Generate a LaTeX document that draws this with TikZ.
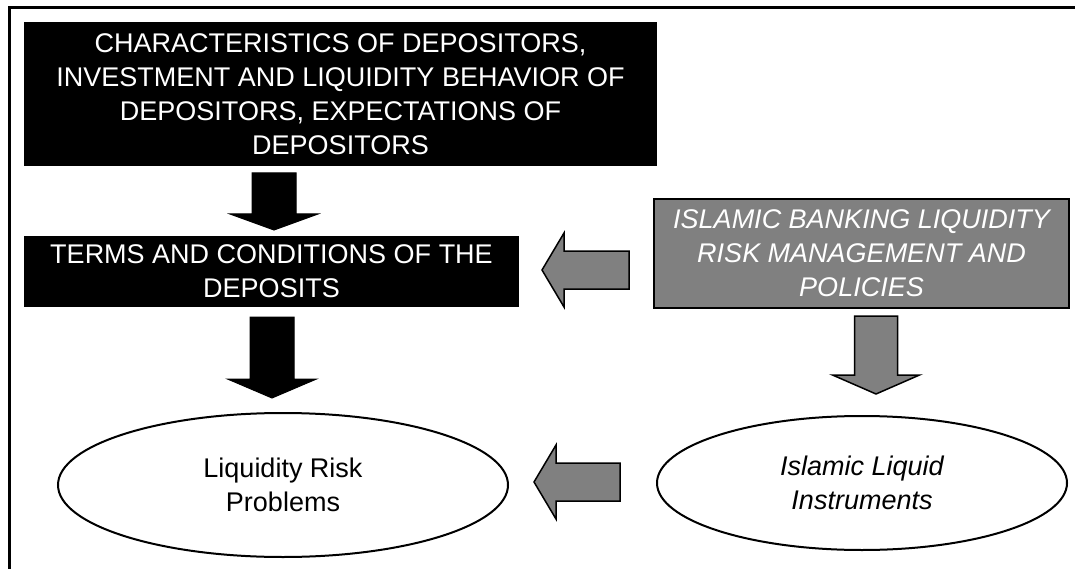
\documentclass[tikz,border=0pt]{standalone}
\usepackage{fontspec}
\setmainfont{Liberation Sans}
\usetikzlibrary{shapes.geometric}
\definecolor{midgray}{HTML}{808080}
\newcommand\mydown[7][]{\draw[#1] (#2-#3,#5) -- (#2+#3,#5) -- (#2+#3,#6) -- (#2+#4,#6) -- (#2,#7) -- (#2-#4,#6) -- (#2-#3,#6) -- cycle;}
\newcommand\myleft[7][]{\draw[#1] (#5,#2-#3) -- (#6,#2-#3) -- (#6,#2-#4) -- (#7,#2) -- (#6,#2+#4) -- (#6,#2+#3) -- (#5,#2+#3) -- cycle;}
\begin{document}
\begin{tikzpicture}[x=1pt,y=-1pt,
  lbl/.style={font=\fontsize{27}{34}\selectfont, align=center, inner sep=0pt},
  blackbox/.style={lbl, fill=black, text=white},
  graybox/.style={lbl, fill=midgray, draw=black, line width=2.5pt, text=white, font=\fontsize{27}{34}\selectfont\itshape},
  oval/.style={lbl, ellipse, draw=black, line width=2pt, fill=white},
  blackarrow/.style={fill=black, draw=black, line width=1pt, line join=miter},
  grayarrow/.style={fill=midgray, draw=black, line width=1.5pt, line join=miter},
]
\useasboundingbox (0,0) rectangle (1075,569);
\fill[white] (0,0) rectangle (1075,569);
\draw[line width=2.5pt] (9.5,569) -- (9.5,7.5) -- (1075,7.5);

\node[blackbox, minimum width=633pt, minimum height=144pt] (dep) at (340.5,94)
  {CHARACTERISTICS OF DEPOSITORS,\\INVESTMENT AND LIQUIDITY BEHAVIOR OF\\DEPOSITORS, EXPECTATIONS OF\\DEPOSITORS};
\node[blackbox, minimum width=495pt, minimum height=71pt] (terms) at (271.5,271.5)
  {TERMS AND CONDITIONS OF THE\\DEPOSITS};
\node[graybox, minimum width=415pt, minimum height=109pt] (policy) at (861.5,253.5)
  {ISLAMIC BANKING LIQUIDITY\\RISK MANAGEMENT AND\\POLICIES};
\node[oval, minimum width=450pt, minimum height=144pt] (risk) at (283,485)
  {Liquidity Risk\\Problems};
\node[oval, minimum width=410pt, minimum height=134pt, font=\fontsize{27}{34}\selectfont\itshape] (instr) at (862,483)
  {Islamic Liquid\\Instruments};

\mydown[blackarrow]{274}{22}{44}{173}{214}{230}
\mydown[blackarrow]{272}{22}{44.5}{317}{379}{398}
\mydown[grayarrow]{876}{21.5}{43.5}{316}{375}{394}
\myleft[grayarrow]{270}{19}{37}{629}{564}{542}
\myleft[grayarrow]{482}{19}{37}{620}{556}{534}
\end{tikzpicture}
\end{document}
